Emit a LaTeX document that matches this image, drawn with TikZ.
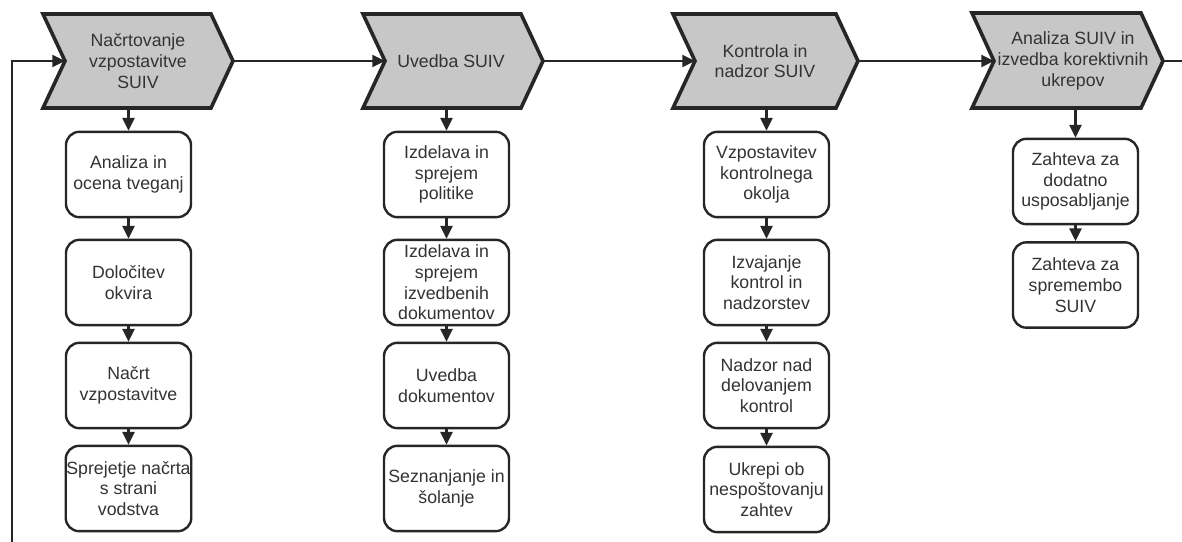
\documentclass[tikz,border=0pt]{standalone}
\usepackage{fontspec}
\setmainfont{Liberation Sans}
\usetikzlibrary{arrows.meta}

\begin{document}
\begin{tikzpicture}[x=0.75pt,y=-0.75pt,
  stage/.style={draw=black!85,line width=2.7pt,fill=black!22,line join=miter},
  stagetext/.style={align=center,inner sep=0pt,font=\fontsize{13.3}{15.5}\selectfont,text=black!80},
  task/.style={draw=black!85,line width=1.8pt,rounded corners=10pt,fill=white,
    minimum width=93.75pt,minimum height=64pt,inner sep=0.5pt,align=center,
    font=\fontsize{13.3}{15.5}\selectfont,text=black!80},
  flow/.style={line width=1.7pt,draw=black!85,-{Triangle[length=9.5pt,width=9pt]}}]

\useasboundingbox (0,0) rectangle (1182,542);

% stages
\draw[stage] (43,14) -- (211,14) -- (233,61) -- (211,108) -- (43,108) -- (65,61) -- cycle;
\node[stagetext] (plan) at (138,61) {Načrtovanje\\vzpostavitve\\SUIV};
\coordinate (plan in) at (65,61);
\coordinate (plan out) at (233,61);
\coordinate (plan down) at (128.5,108);

\draw[stage] (363,14) -- (521,14) -- (543,61) -- (521,108) -- (363,108) -- (385,61) -- cycle;
\node[stagetext] (intro) at (451,61) {Uvedba SUIV};
\coordinate (intro in) at (385,61);
\coordinate (intro out) at (543,61);
\coordinate (intro down) at (446.5,108);

\draw[stage] (673,14) -- (836,14) -- (858,61) -- (836,108) -- (673,108) -- (695,61) -- cycle;
\node[stagetext] (check) at (765,61) {Kontrola in\\nadzor SUIV};
\coordinate (check in) at (695,61);
\coordinate (check out) at (858,61);
\coordinate (check down) at (766.5,108);

\draw[stage] (972,13) -- (1141,13) -- (1163,61) -- (1141,108) -- (972,108) -- (994,61) -- cycle;
\node[stagetext] (review) at (1073,61) {Analiza SUIV in\\izvedba korektivnih\\ukrepov};
\coordinate (review in) at (994,61);
\coordinate (review out) at (1163,61);
\coordinate (review down) at (1075.5,108);

\coordinate (loop start) at (12,542);
\coordinate (exit) at (1182,61);

% tasks
\node[task] (a1) at (128.5,174.5) {Analiza in\\ocena tveganj};
\node[task] (a2) at (128.5,282.5) {Določitev\\okvira};
\node[task] (a3) at (128.5,385.5) {Načrt\\vzpostavitve};
\node[task] (a4) at (128.5,488.5) {Sprejetje načrta\\s strani\\vodstva};

\node[task] (b1) at (446.5,174.5) {Izdelava in\\sprejem\\politike};
\node[task] (b2) at (446.5,282.5) {Izdelava in\\sprejem\\izvedbenih\\dokumentov};
\node[task] (b3) at (446.5,385.5) {Uvedba\\dokumentov};
\node[task] (b4) at (446.5,488.5) {Seznanjanje in\\šolanje};

\node[task] (c1) at (766.5,174.5) {Vzpostavitev\\kontrolnega\\okolja};
\node[task] (c2) at (766.5,282.5) {Izvajanje\\kontrol in\\nadzorstev};
\node[task] (c3) at (766.5,385.5) {Nadzor nad\\delovanjem\\kontrol};
\node[task] (c4) at (766.5,489.5) {Ukrepi ob\\nespoštovanju\\zahtev};

\node[task] (d1) at (1075.5,181.5) {Zahteva za\\dodatno\\usposabljanje};
\node[task] (d2) at (1075.5,285) {Zahteva za\\spremembo\\SUIV};

% main flow
\draw[flow] (loop start) |- (plan in);
\draw[flow] (plan out) -- (intro in);
\draw[flow] (intro out) -- (check in);
\draw[flow] (check out) -- (review in);
\draw[line width=1.7pt,draw=black!85] (review out) -- (exit);

\draw[flow] (plan down) -- (a1);
\draw[flow] (a1) -- (a2);
\draw[flow] (a2) -- (a3);
\draw[flow] (a3) -- (a4);

\draw[flow] (intro down) -- (b1);
\draw[flow] (b1) -- (b2);
\draw[flow] (b2) -- (b3);
\draw[flow] (b3) -- (b4);

\draw[flow] (check down) -- (c1);
\draw[flow] (c1) -- (c2);
\draw[flow] (c2) -- (c3);
\draw[flow] (c3) -- (c4);

\draw[flow] (review down) -- (d1);
\draw[flow] (d1) -- (d2);
\end{tikzpicture}
\end{document}
